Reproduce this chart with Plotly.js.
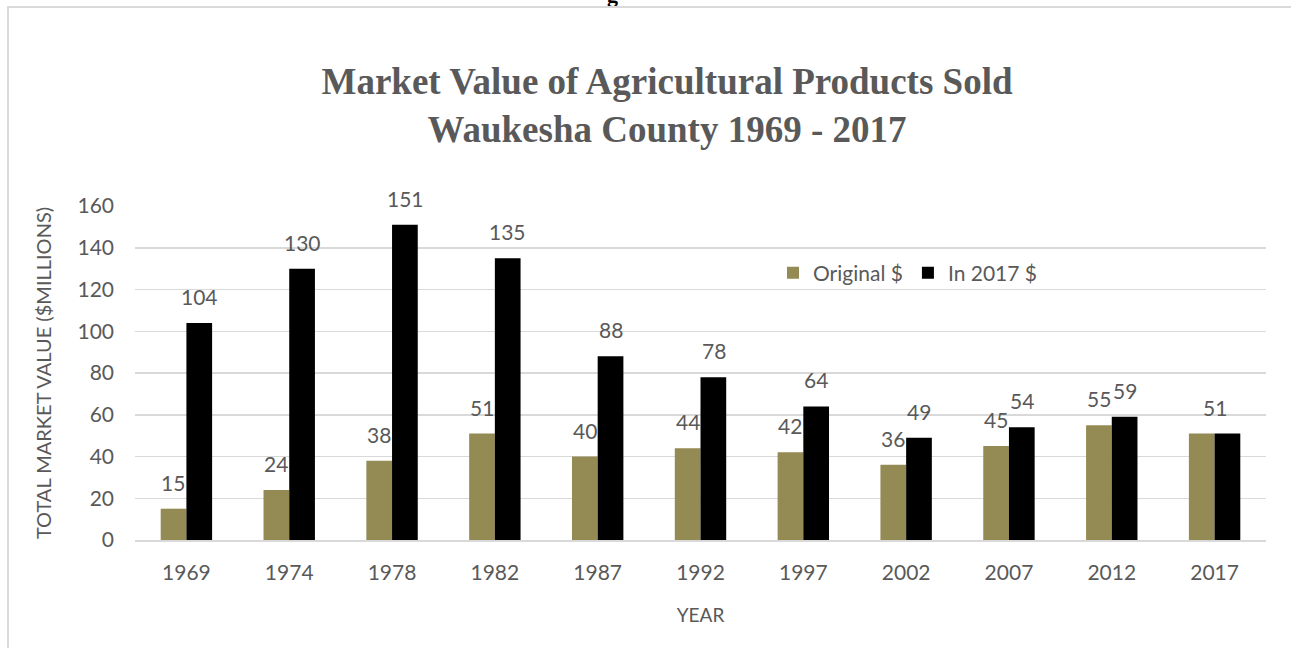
<!DOCTYPE html>
<html>
<head>
<meta charset="utf-8">
<script src="https://cdn.plot.ly/plotly-3.0.1.min.js"></script>
<style>
  html, body { margin: 0; padding: 0; background: #fff; overflow: hidden; }
  #frame { position: absolute; left: 7px; top: 6px; width: 1300px; height: 660px; border: 2px solid #d9d9d9; box-sizing: border-box; pointer-events: none; z-index: 5; }
  #chart { position: absolute; left: 0; top: 0; width: 1291px; height: 648px; }
</style>
</head>
<body>
<div id="chart"></div>
<div id="frame"></div>
<script>
const years = ['1969', '1974', '1978', '1982', '1987', '1992', '1997', '2002', '2007', '2012', '2017'];
const originalDollars = [15, 24, 38, 51, 40, 44, 42, 36, 45, 55, 51];
const dollars2017 = [104, 130, 151, 135, 88, 78, 64, 49, 54, 59, 51];
const seriesNames = ['Original $', 'In 2017 $'];
const yTicks = [0, 20, 40, 60, 80, 100, 120, 140, 160];

const grey = '#595959';
const sans = 'Lato, Calibri, sans-serif';
const labelFont = { family: sans, size: 21, color: grey };

const traces = [
  { type: 'bar', name: seriesNames[0], x: years, y: originalDollars, marker: { color: '#948A54' }, hoverinfo: 'x+y' },
  { type: 'bar', name: seriesNames[1], x: years, y: dollars2017, marker: { color: '#000000' }, hoverinfo: 'x+y' }
];

const annotations = [];
years.forEach((yr, i) => {
  const a = originalDollars[i], b = dollars2017[i];
  if (a === b) {
    annotations.push({ x: i, y: a, text: String(a), showarrow: false, yanchor: 'bottom', yshift: 12, font: labelFont });
  } else {
    annotations.push({ x: i, y: a, text: String(a), showarrow: false, yanchor: 'bottom', yshift: 12, xshift: -13, font: labelFont });
    annotations.push({ x: i, y: b, text: String(b), showarrow: false, yanchor: 'bottom', yshift: 12, xshift: 13, font: labelFont });
  }
});
// cut-off heading remnant at the very top
annotations.push({ xref: 'paper', yref: 'paper', x: (612 - 135) / 1131, y: (540 - 9) / 334, yanchor: 'bottom', text: '<b>g</b>', showarrow: false,
  font: { family: 'Liberation Serif, Times New Roman, serif', size: 22, color: '#000' } });

const layout = {
  width: 1291, height: 648,
  margin: { l: 135, r: 25, t: 206, b: 108, pad: 0 },
  paper_bgcolor: '#fff', plot_bgcolor: '#fff',
  barmode: 'group', bargap: 0.5, bargroupgap: 0,
  title: {
    text: '<b>Market Value of Agricultural Products Sold<br>Waukesha County 1969 - 2017</b>',
    font: { family: 'Liberation Serif, Times New Roman, serif', size: 37, color: grey },
    x: 667 / 1291, xanchor: 'center', xref: 'container', y: 1 - 94 / 648, yanchor: 'top', yref: 'container'
  },
  xaxis: {
    type: 'category', range: [-0.5, 10.5], autorange: false,
    tickfont: { family: sans, size: 21, color: grey },
    showline: true, linecolor: '#d9d9d9', linewidth: 1.5,
    ticks: '', ticklen: 0, ticklabelstandoff: 13,
    title: { text: 'YEAR', font: { family: sans, size: 19, color: grey }, standoff: 26 }
  },
  yaxis: {
    range: [0, 160], autorange: false, tickvals: yTicks, ticktext: yTicks.map(String),
    tickfont: { family: sans, size: 21, color: grey },
    showgrid: true, gridcolor: '#d9d9d9', gridwidth: 1.5,
    zeroline: false, ticks: '', ticklen: 0, ticklabelstandoff: 20,
    title: { text: 'TOTAL MARKET VALUE ($MILLIONS)', font: { family: sans, size: 20, color: grey }, standoff: 20 }
  },
  showlegend: true,
  legend: {
    orientation: 'h', x: (773 - 135) / 1131, y: (540 - 273) / 334, xanchor: 'left', yanchor: 'middle',
    font: { family: sans, size: 21, color: grey },
    bgcolor: 'rgba(0,0,0,0)', traceorder: 'normal'
  },
  annotations: annotations
};

Plotly.newPlot('chart', traces, layout, { displayModeBar: false, staticPlot: true });
</script>
</body>
</html>
